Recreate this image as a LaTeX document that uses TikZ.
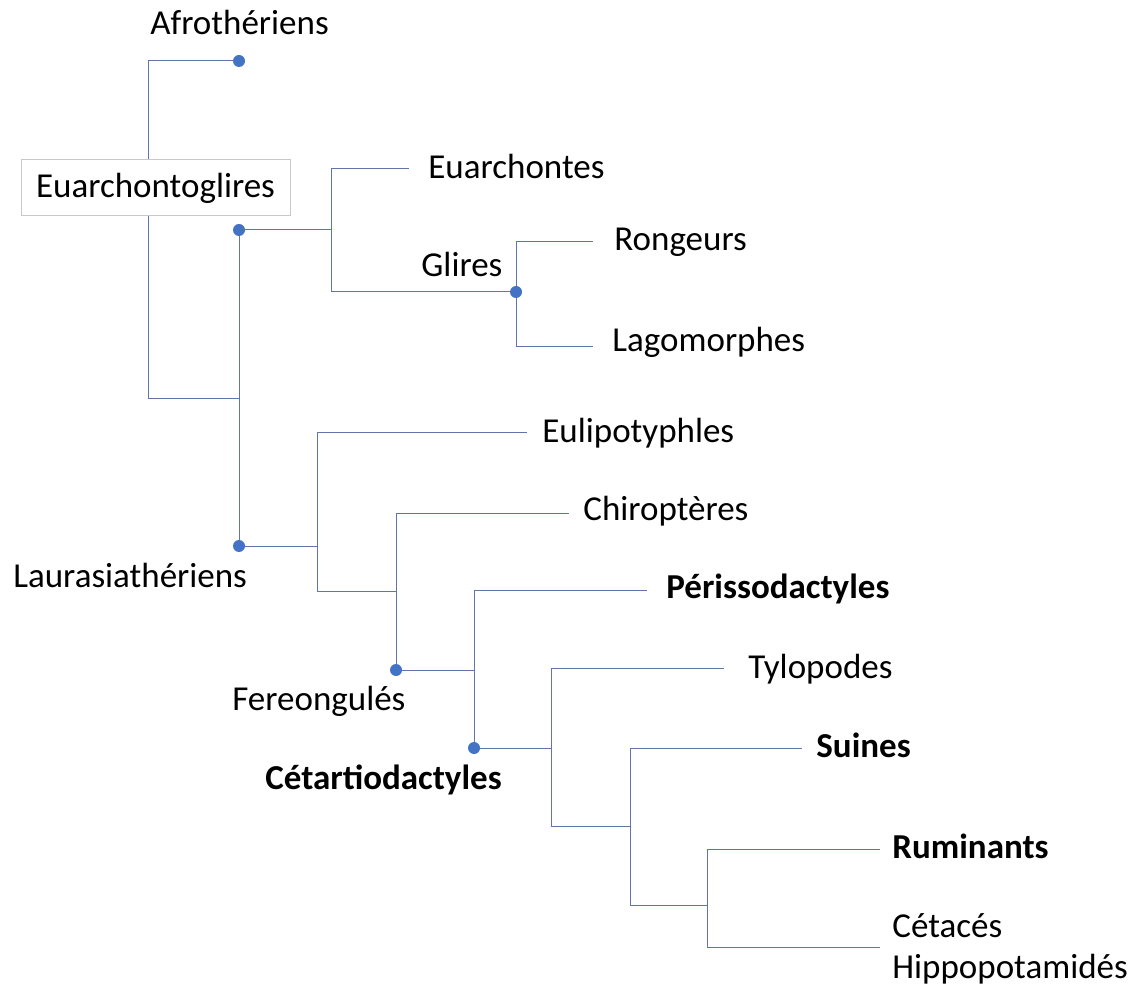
\documentclass[tikz,border=0pt]{standalone}
\usepackage{fontspec}
\setmainfont{Carlito}
\definecolor{branch}{RGB}{96,118,170}
\definecolor{dotblue}{RGB}{68,114,196}
\definecolor{boxgrey}{RGB}{200,200,200}
\tikzset{
  branchline/.style={draw=branch, line width=0.5pt},
  clade/.style={circle, fill=dotblue, inner sep=0pt, minimum size=6pt},
  taxon/.style={anchor=base west, inner sep=0pt, font=\fontsize{17.5}{21}\selectfont},
  boldtaxon/.style={taxon, font=\fontsize{17.5}{21}\selectfont\bfseries},
  labelbox/.style={draw=boxgrey, line width=0.5pt, fill=white, minimum width=134.5pt, minimum height=28pt, inner sep=0pt, font=\fontsize{17.5}{21}\selectfont}
}
\begin{document}
\begin{tikzpicture}[x=0.5pt, y=-0.5pt]
\useasboundingbox (0,0) rectangle (1134,988);

% clade positions
\coordinate (afro) at (239,61);
\coordinate (euarch) at (239,230);
\coordinate (glires) at (516,292);
\coordinate (laur) at (239,546);
\coordinate (fereo) at (396,670);
\coordinate (cetart) at (474,748);

% branching points
\coordinate (rootbot) at (148,399);
\coordinate (boreo) at (239,399);
\coordinate (jEuarch) at (331,230);
\coordinate (jLaur) at (317,546);
\coordinate (jScrot) at (396,591);
\coordinate (jFereo) at (474,670);
\coordinate (jCet) at (551,748);
\coordinate (jArtio) at (630,826);
\coordinate (jCetrum) at (707,905);

% branch tips
\coordinate (tEuarchontes) at (409,169);
\coordinate (tRong) at (593,242);
\coordinate (tLago) at (593,347);
\coordinate (tEuli) at (527,433);
\coordinate (tChiro) at (569,513);
\coordinate (tPeri) at (647,590);
\coordinate (tTylo) at (724,668);
\coordinate (tSuin) at (802,748);
\coordinate (tRumi) at (880,849);
\coordinate (tCeta) at (880,947);

% branches
\draw[branchline] (afro) -| (rootbot) -- (boreo);
\draw[branchline] (euarch) -- (laur);
\draw[branchline] (euarch) -- (jEuarch);
\draw[branchline] (jEuarch) |- (tEuarchontes);
\draw[branchline] (jEuarch) |- (glires);
\draw[branchline] (glires) |- (tRong);
\draw[branchline] (glires) |- (tLago);
\draw[branchline] (laur) -- (jLaur);
\draw[branchline] (jLaur) |- (tEuli);
\draw[branchline] (jLaur) |- (jScrot);
\draw[branchline] (jScrot) |- (tChiro);
\draw[branchline] (jScrot) -- (fereo);
\draw[branchline] (fereo) -- (jFereo);
\draw[branchline] (jFereo) |- (tPeri);
\draw[branchline] (jFereo) -- (cetart);
\draw[branchline] (cetart) -- (jCet);
\draw[branchline] (jCet) |- (tTylo);
\draw[branchline] (jCet) |- (jArtio);
\draw[branchline] (jArtio) |- (tSuin);
\draw[branchline] (jArtio) |- (jCetrum);
\draw[branchline] (jCetrum) |- (tRumi);
\draw[branchline] (jCetrum) |- (tCeta);

% clade dots above the lines
\foreach \c in {afro,euarch,glires,laur,fereo,cetart}
  \node[clade] (dot-\c) at (\c) {};

% labelled box
\node[labelbox] (boxEuarch) at (155.5,188) {Euarchontoglires};

% taxon labels
\node[taxon] (lAfro) at (150,35) {Afrothériens};
\node[taxon] (lEuarchontes) at (428,179) {Euarchontes};
\node[taxon] (lGlires) at (421,277) {Glires};
\node[taxon] (lRong) at (614,251) {Rongeurs};
\node[taxon] (lLago) at (612,352) {Lagomorphes};
\node[taxon] (lLaur) at (13,587) {Laurasiathériens};
\node[taxon] (lEuli) at (542,443) {Eulipotyphles};
\node[taxon] (lChiro) at (583,520) {Chiroptères};
\node[boldtaxon] (lPeri) at (666,598) {Périssodactyles};
\node[taxon] (lFereo) at (232,710) {Fereongulés};
\node[taxon] (lTylo) at (748,678) {Tylopodes};
\node[boldtaxon] (lCetart) at (265,789) {Cétartiodactyles};
\node[boldtaxon] (lSuin) at (816,757) {Suines};
\node[boldtaxon] (lRumi) at (892,858) {Ruminants};
\node[taxon] (lCeta) at (892,937) {Cétacés};
\node[taxon] (lHippo) at (892,978) {Hippopotamidés};
\end{tikzpicture}
\end{document}
